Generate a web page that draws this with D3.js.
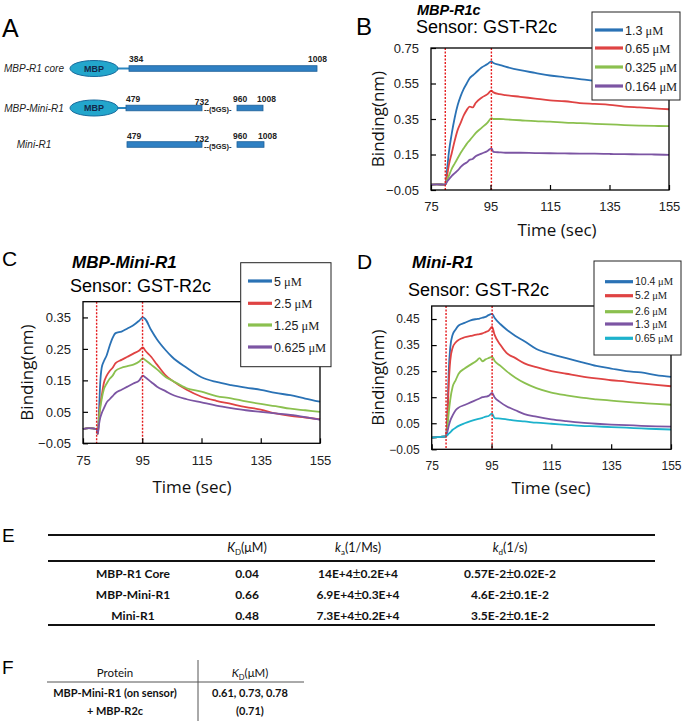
<!DOCTYPE html>
<html><head><meta charset="utf-8">
<script src="https://cdn.jsdelivr.net/npm/d3@7"></script>
<style>body{margin:0;background:#fff}svg{display:block}</style>
</head><body><svg id="c" width="683" height="721"></svg>
<script>
// ---------------- DATA ----------------
const timeTicks = [75, 95, 115, 135, 155];
const seriesColors = ["#2a72b5", "#df4343", "#8bc04f", "#7c55a3", "#1db2cc"];

// Panel B : MBP-R1c
const tB = [75,77,79.8,80.5,81,82,83,84,85,86,87,88,89,90,92,94,95.3,96,98,100,105,110,115,120,125,130,135,140,145,150,155];
const b_1_3   = [-0.02,-0.018,-0.02, 0.08,0.16,0.27,0.36,0.43,0.48,0.52,0.55,0.58,0.595,0.61,0.64,0.66,0.675, 0.665,0.655,0.645,0.625,0.61,0.595,0.585,0.575,0.565,0.56,0.555,0.55,0.545,0.54];
const b_0_65  = [-0.02,-0.018,-0.02, 0.04,0.09,0.16,0.23,0.29,0.33,0.37,0.40,0.42,0.415,0.44,0.47,0.49,0.51, 0.50,0.49,0.485,0.475,0.465,0.455,0.45,0.44,0.435,0.43,0.42,0.415,0.41,0.405];
const b_0_325 = [-0.02,-0.018,-0.02, 0.01,0.03,0.07,0.10,0.13,0.16,0.185,0.21,0.23,0.25,0.27,0.30,0.33,0.355, 0.35,0.35,0.348,0.343,0.338,0.335,0.33,0.327,0.323,0.32,0.316,0.313,0.311,0.31];
const b_0_164 = [-0.02,-0.018,-0.02, 0.0,0.01,0.03,0.045,0.06,0.08,0.095,0.105,0.12,0.125,0.14,0.155,0.17,0.185, 0.165,0.162,0.16,0.16,0.158,0.157,0.156,0.155,0.155,0.153,0.152,0.151,0.15,0.148];
const legendB = ["1.3", "0.65", "0.325", "0.164"];
const markersB = [79.8, 95.3];

// Panel C : MBP-Mini-R1
const tC = [75,77,79.6,80,80.4,80.8,81.3,82,83,84,85,86,88,90,92,94,95.2,96,98,100,103,105,110,115,120,125,130,135,140,145,150,155];
const c_5     = [-0.005,-0.002,-0.005,-0.02, 0.05,0.14,0.19,0.21,0.23,0.26,0.285,0.30,0.305,0.315,0.325,0.34,0.35, 0.345,0.31,0.28,0.245,0.225,0.19,0.16,0.145,0.135,0.127,0.12,0.11,0.103,0.092,0.082];
const c_2_5   = [-0.005,-0.002,-0.005,-0.02, 0.03,0.07,0.10,0.14,0.165,0.18,0.19,0.205,0.215,0.225,0.235,0.245,0.255, 0.245,0.225,0.20,0.165,0.15,0.12,0.098,0.085,0.075,0.065,0.057,0.045,0.037,0.032,0.026];
const c_1_25  = [-0.005,-0.002,-0.005,-0.02, 0.03,0.06,0.09,0.12,0.14,0.155,0.165,0.18,0.19,0.195,0.20,0.21,0.22, 0.215,0.20,0.185,0.16,0.15,0.125,0.114,0.10,0.093,0.083,0.075,0.068,0.06,0.055,0.05];
const c_0_625 = [-0.005,-0.002,-0.005,-0.02, 0.01,0.03,0.045,0.06,0.08,0.09,0.10,0.11,0.12,0.13,0.14,0.15,0.165, 0.16,0.145,0.13,0.115,0.105,0.09,0.08,0.07,0.062,0.055,0.05,0.045,0.04,0.033,0.025];
const legendC = ["5", "2.5", "1.25", "0.625"];
const markersC = [79.6, 95.1];

// Panel D : Mini-R1
const tD = [75,77,79.8,80.3,80.7,81.2,82,83,84,86,88,90,91,92,93,94,95.2,96,98,100,103,106,110,115,120,125,130,135,140,145,150,155];
const d_10_4 = [-0.005,-0.003,0.0, 0.10,0.25,0.34,0.39,0.41,0.425,0.435,0.445,0.45,0.452,0.455,0.458,0.465,0.47, 0.455,0.43,0.41,0.385,0.365,0.335,0.315,0.30,0.285,0.27,0.26,0.25,0.245,0.235,0.228];
const d_5_2  = [-0.005,-0.003,0.0, 0.08,0.20,0.29,0.34,0.36,0.37,0.38,0.385,0.39,0.392,0.395,0.40,0.405,0.42, 0.39,0.35,0.32,0.30,0.28,0.265,0.25,0.24,0.23,0.222,0.215,0.21,0.203,0.197,0.192];
const d_2_6  = [-0.005,-0.003,0.0, 0.04,0.09,0.14,0.19,0.215,0.24,0.26,0.275,0.29,0.30,0.288,0.295,0.30,0.305, 0.29,0.27,0.25,0.225,0.205,0.185,0.168,0.157,0.148,0.142,0.137,0.132,0.128,0.124,0.121];
const d_1_3  = [-0.005,-0.003,0.0, 0.02,0.04,0.06,0.08,0.10,0.11,0.12,0.13,0.14,0.145,0.15,0.152,0.155,0.166, 0.15,0.13,0.115,0.10,0.085,0.075,0.065,0.058,0.052,0.048,0.045,0.043,0.04,0.038,0.037];
const d_0_65 = [-0.005,-0.003,0.0, 0.005,0.01,0.015,0.025,0.033,0.04,0.05,0.058,0.065,0.068,0.071,0.075,0.078,0.087, 0.07,0.068,0.065,0.06,0.057,0.052,0.048,0.044,0.04,0.038,0.035,0.033,0.03,0.028,0.026];
const legendD = ["10.4", "5.2", "2.6", "1.3", "0.65"];
const markersD = [79.8, 95.2];

// Panel A constructs
const constructNames = ["MBP-R1 core", "MBP-Mini-R1", "Mini-R1"];
const constructHasMBP = [true, true, false];
const constructSegments = [[[384, 1008]], [[479, 732], [960, 1008]], [[479, 732], [960, 1008]]];
const constructLabels = [["384", "1008"], ["479", "732", "960", "1008"], ["479", "732", "960", "1008"]];

// Panel E table
const tableERows = ["MBP-R1 Core", "MBP-Mini-R1", "Mini-R1"];
const tableEKD = ["0.04", "0.66", "0.48"];
const tableEka = [["14E+4", "0.2E+4"], ["6.9E+4", "0.3E+4"], ["7.3E+4", "0.2E+4"]];
const tableEkd = [["0.57E-2", "0.02E-2"], ["4.6E-2", "0.1E-2"], ["3.5E-2", "0.1E-2"]];

// Panel F table
const tableFProtein = ["MBP-Mini-R1 (on sensor)", "+ MBP-R2c"];
const tableFKD = ["0.61, 0.73, 0.78", "(0.71)"];

// ---------------- DRAW ----------------
const svg = d3.select("#c");
svg.append("rect").attr("width", 683).attr("height", 721).attr("fill", "#fff");
const SANS = "'Liberation Sans', Arial, sans-serif";
const SERIF = "'Liberation Serif', 'Times New Roman', serif";
const LABF = "'Open Sans', sans-serif";
const TBLF = "Lato, 'Open Sans', sans-serif";

function letter(txt, x, y, size, weight) {
  svg.append("text").attr("x", x).attr("y", y).text(txt)
    .attr("font-family", SANS).attr("font-size", size).attr("font-weight", weight || "normal").attr("fill", "#000");
}

function panel(cfg) {
  const g = svg.append("g");
  const x = d3.scaleLinear().domain([75, 155]).range([cfg.left, cfg.right]);
  const y = d3.scaleLinear().domain(cfg.yDom).range([cfg.bottom, cfg.top]);
  const line = d3.line().x((d, i) => x(cfg.t[i])).y(d => y(d)).curve(d3.curveMonotoneX);
  cfg.series.forEach((s, k) => {
    g.append("path").attr("d", line(s)).attr("fill", "none")
      .attr("stroke", seriesColors[k]).attr("stroke-width", 1.8).attr("stroke-linejoin", "round");
  });
  cfg.markers.forEach(m => {
    g.append("line").attr("x1", x(m)).attr("x2", x(m)).attr("y1", cfg.top).attr("y2", cfg.bottom)
      .attr("stroke", "#e41a1c").attr("stroke-width", 1.4).attr("stroke-dasharray", "2,1.5");
  });
  g.append("rect").attr("x", cfg.left).attr("y", cfg.top).attr("width", cfg.right - cfg.left)
    .attr("height", cfg.bottom - cfg.top).attr("fill", "none").attr("stroke", "#000").attr("stroke-width", 1.3);
  const xa = g.append("g").attr("transform", `translate(0,${cfg.bottom})`)
    .call(d3.axisBottom(x).tickValues(timeTicks).tickSizeInner(-5).tickSizeOuter(0).tickPadding(12).tickFormat(d3.format("d")));
  const ya = g.append("g").attr("transform", `translate(${cfg.left},0)`)
    .call(d3.axisLeft(y).tickValues(cfg.yTicks).tickSizeInner(-5).tickSizeOuter(0).tickPadding(12).tickFormat(d3.format(".2f")));
  [xa, ya].forEach(a => {
    a.select(".domain").remove();
    a.selectAll(".tick line").attr("stroke", "#000").attr("stroke-width", 1.2);
    a.selectAll("text").attr("font-family", SANS).attr("font-size", cfg.tickSize).attr("fill", "#222");
  });
  g.append("text").attr("transform", `translate(${cfg.ylabX},${(cfg.top + cfg.bottom) / 2}) rotate(-90)`)
    .attr("text-anchor", "middle").attr("font-family", LABF).attr("font-size", 17).attr("fill", "#111").text("Binding(nm)");
  g.append("text").attr("x", cfg.xlabX).attr("y", cfg.xlabY).attr("text-anchor", "middle")
    .attr("font-family", LABF).attr("font-size", 17).attr("fill", "#111").text("Time (sec)");
  g.append("text").attr("x", cfg.t1x).attr("y", cfg.t1y).attr("font-family", SANS).attr("font-style", "italic")
    .attr("font-weight", "bold").attr("font-size", cfg.t1size).attr("fill", "#000").text(cfg.title);
  g.append("text").attr("x", cfg.t2x).attr("y", cfg.t2y).attr("font-family", SANS)
    .attr("font-size", 18).attr("fill", "#000").text("Sensor: GST-R2c");
  const L = cfg.legend;
  g.append("rect").attr("x", L.x0).attr("y", L.y0).attr("width", L.x1 - L.x0).attr("height", L.y1 - L.y0)
    .attr("fill", "#fff").attr("stroke", "#222").attr("stroke-width", 1);
  cfg.legendLabels.forEach((lab, k) => {
    const yy = L.ys[k];
    g.append("line").attr("x1", L.lx0).attr("x2", L.lx1).attr("y1", yy).attr("y2", yy)
      .attr("stroke", seriesColors[k]).attr("stroke-width", 3.2);
    const t = g.append("text").attr("x", L.tx).attr("y", yy + L.size * 0.36).attr("font-size", L.size).attr("fill", "#222");
    t.append("tspan").attr("font-family", SANS).text(lab);
    t.append("tspan").attr("font-family", SERIF).text("\u00a0\u03bcM");
  });
}

// Panel A
letter("A", 2, 37, 25);
(function () {
  const rowsY = [68.5, 108, 144.5];
  const scales = [
    d3.scaleLinear().domain([384, 1008]).range([129, 317]),
    d3.scaleLinear().domain([479, 732, 960, 1008]).range([126, 202, 237, 263]),
    d3.scaleLinear().domain([479, 732, 960, 1008]).range([127, 202, 237, 264])
  ];
  constructNames.forEach((name, r) => {
    const yy = rowsY[r], sc = scales[r];
    svg.append("text").attr("x", 34).attr("y", yy + 3.5).attr("text-anchor", "middle")
      .attr("font-family", SANS).attr("font-style", "italic").attr("font-size", 10).attr("fill", "#222").text(name);
    if (constructHasMBP[r]) {
      svg.append("line").attr("x1", 116).attr("x2", sc.range()[0]).attr("y1", yy).attr("y2", yy)
        .attr("stroke", "#2a86c0").attr("stroke-width", 2);
      svg.append("ellipse").attr("cx", 94).attr("cy", yy).attr("rx", 24).attr("ry", 8)
        .attr("fill", "#23a6cc").attr("stroke", "#1a6c9e").attr("stroke-width", 1);
      svg.append("text").attr("x", 94).attr("y", yy + 3.3).attr("text-anchor", "middle").attr("font-family", SANS)
        .attr("font-weight", "bold").attr("font-size", 9).attr("fill", "#13294b").text("MBP");
    }
    constructSegments[r].forEach(seg => {
      svg.append("rect").attr("x", sc(seg[0])).attr("y", yy - 2.8).attr("width", sc(seg[1]) - sc(seg[0])).attr("height", 5.6)
        .attr("fill", "#2f80c3").attr("stroke", "#1d5f98").attr("stroke-width", 0.8);
    });
    const labs = constructLabels[r];
    const lab = (x, y, t, anchor, size) => svg.append("text").attr("x", x).attr("y", y).attr("text-anchor", anchor || "start")
      .attr("font-family", SANS).attr("font-weight", "bold").attr("font-size", size || 8.5).attr("fill", "#222").text(t);
    if (labs.length === 2) {
      lab(sc(384), yy - 7, labs[0]);
      lab(sc(1008) + 10, yy - 7, labs[1], "end");
    } else {
      lab(sc(479), yy - 6, labs[0]);
      lab(sc(732) + 7, yy - 3, labs[1], "end");
      lab(sc(960) - 4, yy - 6, labs[2]);
      lab(sc(1008) - 6, yy - 6, labs[3]);
      lab(sc(732) + 2, yy + 4, "--(5GS)-", "start", 7.5);
    }
  });
})();

// Panel B
letter("B", 356, 35, 24);
panel({
  left: 431, right: 669, top: 48, bottom: 190, yDom: [-0.05, 0.75], yTicks: [-0.05, 0.15, 0.35, 0.55, 0.75],
  t: tB, series: [b_1_3, b_0_65, b_0_325, b_0_164], markers: markersB, tickSize: 13,
  ylabX: 384, xlabX: 557, xlabY: 236,
  title: "MBP-R1c", t1x: 417, t1y: 15, t1size: 14.5, t2x: 416, t2y: 33,
  legend: { x0: 592, x1: 680, y0: 12, y1: 100, ys: [30, 48, 67, 86], lx0: 595, lx1: 623, tx: 625, size: 12.5 },
  legendLabels: legendB
});

// Panel C
letter("C", 2, 266, 21);
panel({
  left: 83, right: 320, top: 301.7, bottom: 443.3, yDom: [-0.05, 0.40], yTicks: [-0.05, 0.05, 0.15, 0.25, 0.35],
  t: tC, series: [c_5, c_2_5, c_1_25, c_0_625], markers: markersC, tickSize: 13,
  ylabX: 33, xlabX: 192, xlabY: 493,
  title: "MBP-Mini-R1", t1x: 72, t1y: 268, t1size: 17, t2x: 70, t2y: 292,
  legend: { x0: 240.7, x1: 331, y0: 262.7, y1: 366.7, ys: [281, 303.3, 325, 347], lx0: 248, lx1: 272, tx: 274, size: 12.5 },
  legendLabels: legendC
});

// Panel D
letter("D", 357, 269, 21);
panel({
  left: 431.7, right: 671, top: 306, bottom: 449.3, yDom: [-0.05, 0.50], yTicks: [-0.05, 0.05, 0.15, 0.25, 0.35, 0.45],
  t: tD, series: [d_10_4, d_5_2, d_2_6, d_1_3, d_0_65], markers: markersD, tickSize: 12,
  ylabX: 384, xlabX: 551, xlabY: 494,
  title: "Mini-R1", t1x: 412, t1y: 268, t1size: 17, t2x: 408, t2y: 296,
  legend: { x0: 594, x1: 681, y0: 261, y1: 355, ys: [281.7, 295.7, 311.7, 324, 338.3], lx0: 605, lx1: 633, tx: 635, size: 10.5 },
  legendLabels: legendD
});

// Panel E
letter("E", 2, 542, 19);
(function () {
  const colX = [133, 247, 358, 510];
  const lineY = [535, 561, 625];
  const rowY = [574, 595, 616];
  const headY = 552;
  lineY.forEach(ly => svg.append("line").attr("x1", 48).attr("x2", 655).attr("y1", ly).attr("y2", ly)
    .attr("stroke", "#111").attr("stroke-width", 2));
  const head = (cx, sym, sub, unit) => {
    const t = svg.append("text").attr("x", cx).attr("y", headY).attr("text-anchor", "middle")
      .attr("font-family", TBLF).attr("font-size", 12.5).attr("fill", "#111");
    t.append("tspan").attr("font-style", "italic").text(sym);
    t.append("tspan").attr("font-size", 8).attr("dy", 3).text(sub);
    t.append("tspan").attr("dy", -3).text(unit);
  };
  head(colX[1], "K", "D", "(\u03bcM)");
  head(colX[2], "k", "a", "(1/Ms)");
  head(colX[3], "k", "d", "(1/s)");
  const cell = (cx, cy, parts) => {
    const t = svg.append("text").attr("x", cx).attr("y", cy + 4).attr("text-anchor", "middle")
      .attr("font-family", TBLF).attr("font-weight", "bold").attr("font-size", 12).attr("fill", "#111");
    if (typeof parts === "string") t.text(parts);
    else {
      t.append("tspan").text(parts[0]);
      t.append("tspan").attr("font-weight", "normal").attr("font-family", SANS).attr("font-size", 14).text("\u00b1");
      t.append("tspan").text(parts[1]);
    }
  };
  tableERows.forEach((r, i) => {
    cell(colX[0], rowY[i], r);
    cell(colX[1], rowY[i], tableEKD[i]);
    cell(colX[2], rowY[i], tableEka[i]);
    cell(colX[3], rowY[i], tableEkd[i]);
  });
})();

// Panel F
letter("F", 2, 674, 19);
(function () {
  svg.append("line").attr("x1", 47).attr("x2", 304).attr("y1", 682).attr("y2", 682).attr("stroke", "#555").attr("stroke-width", 1);
  svg.append("line").attr("x1", 198).attr("x2", 198).attr("y1", 660).attr("y2", 721).attr("stroke", "#555").attr("stroke-width", 1);
  svg.append("text").attr("x", 115).attr("y", 677).attr("text-anchor", "middle").attr("font-family", TBLF)
    .attr("font-size", 11.5).attr("fill", "#111").text("Protein");
  const t = svg.append("text").attr("x", 250).attr("y", 677).attr("text-anchor", "middle").attr("font-family", TBLF)
    .attr("font-size", 11.5).attr("fill", "#111");
  t.append("tspan").attr("font-style", "italic").text("K");
  t.append("tspan").attr("font-size", 7.5).attr("dy", 3).text("D");
  t.append("tspan").attr("dy", -3).text("(\u03bcM)");
  const rowY = [697, 715];
  tableFProtein.forEach((p, i) => {
    svg.append("text").attr("x", 115).attr("y", rowY[i]).attr("text-anchor", "middle").attr("font-family", TBLF)
      .attr("font-weight", "bold").attr("font-size", 11).attr("fill", "#111").text(p);
    svg.append("text").attr("x", 250).attr("y", rowY[i]).attr("text-anchor", "middle").attr("font-family", TBLF)
      .attr("font-weight", "bold").attr("font-size", 11).attr("fill", "#111").text(tableFKD[i]);
  });
})();
</script></body></html>
